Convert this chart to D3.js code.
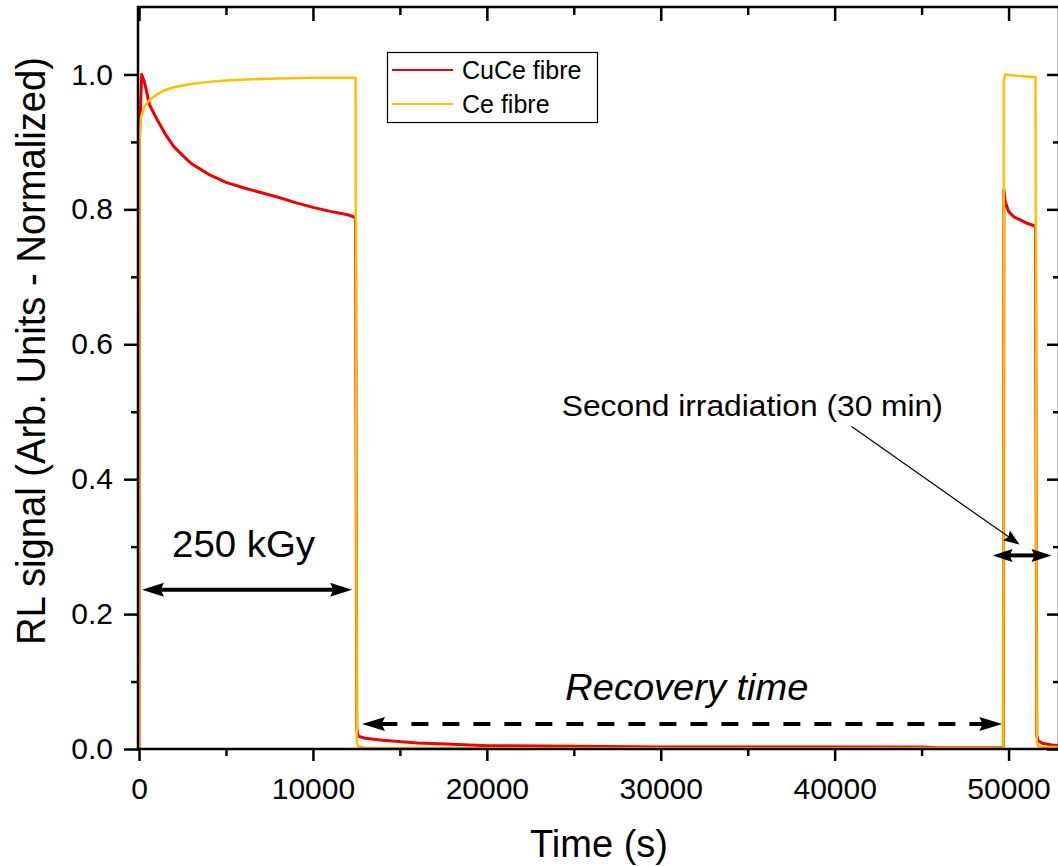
<!DOCTYPE html>
<html>
<head>
<meta charset="utf-8">
<script src="https://cdn.jsdelivr.net/npm/d3@7"></script>
<style>
body { margin: 0; background: #fff; }
svg text { font-family: "Liberation Sans", Arial, sans-serif; fill: #000; }
</style>
</head>
<body>
<svg id="chart"></svg>
<script>
// CuCe fibre (red), time in s, normalized RL signal
var cuceTime = [-60, 0, 20, 150, 300, 600, 1000, 1500, 2000, 2500, 3000, 4000, 5000, 6000, 7000, 8000, 9000, 10000, 11000, 12000,
    12450, 12520, 12600, 13000, 14000, 16000, 18000, 20000, 25000, 30000, 35000, 40000, 45000, 46000,
    49650, 49700, 49730, 49800, 50000, 50300, 50700, 51100, 51550, 51620, 51700, 52000, 52500, 52900];
var cuceSignal = [0, 0, 0.90, 1.0, 0.99, 0.955, 0.935, 0.912, 0.893, 0.88, 0.868, 0.852, 0.84, 0.832, 0.825, 0.818, 0.81, 0.803, 0.797, 0.792,
    0.788, 0.03, 0.019, 0.016, 0.013, 0.009, 0.007, 0.005, 0.004, 0.003, 0.003, 0.003, 0.003, 0.002,
    0.002, 0.004, 0.83, 0.812, 0.797, 0.789, 0.784, 0.779, 0.775, 0.02, 0.012, 0.008, 0.006, 0.005];

// Ce fibre (yellow)
var ceTime = [-60, 0, 30, 100, 300, 600, 1000, 1500, 2000, 3000, 4000, 5000, 6500, 8000, 10000,
    12450, 12520, 12600, 13000, 20000, 30000, 40000, 49650, 49700, 49730, 49800, 50500, 51550, 51620, 51700, 52000, 52900];
var ceSignal = [0, 0, 0.90, 0.935, 0.952, 0.962, 0.970, 0.977, 0.981, 0.986, 0.989, 0.991, 0.993, 0.994, 0.995,
    0.995, 0.01, 0.004, 0.002, 0.001, 0.001, 0.001, 0.002, 0.003, 0.99, 1.0, 0.998, 0.996, 0.01, 0.004, 0.003, 0.003];

var xMajor = [0, 10000, 20000, 30000, 40000, 50000];
var xMinor = [5000, 15000, 25000, 35000, 45000];
var yMajor = [0, 0.2, 0.4, 0.6, 0.8, 1.0];
var yMinor = [0.1, 0.3, 0.5, 0.7, 0.9];

var seriesNames = ["CuCe fibre", "Ce fibre"];
var seriesColors = ["#ee0000", "#ffbf00"];

var width = 1058;
var height = 866;
var plotLeft = 138, plotRight = 1059, plotTop = 7, plotBottom = 749;

var svg = d3.select("#chart")
    .attr("width", width)
    .attr("height", height);

var xScale = d3.scaleLinear()
    .domain([-60, 52900])
    .range([plotLeft, plotRight]);

var yScale = d3.scaleLinear()
    .domain([0, 1.1])
    .range([plotBottom, plotTop]);

var toPoints = function(times, values)
{
    return times.map(function(t, i) { return [t, values[i]]; });
}

var series = [toPoints(cuceTime, cuceSignal), toPoints(ceTime, ceSignal)];

svg.append("clipPath")
    .attr("id", "plotclip")
    .append("rect")
    .attr("x", plotLeft)
    .attr("y", plotTop)
    .attr("width", plotRight - plotLeft)
    .attr("height", plotBottom - plotTop);

var line = d3.line()
    .x(function(d) { return xScale(d[0]); })
    .y(function(d) { return yScale(d[1]); });

svg.append("g")
    .attr("clip-path", "url(#plotclip)")
    .selectAll("path")
    .data(series)
    .enter()
    .append("path")
    .attr("d", line)
    .attr("fill", "none")
    .attr("stroke", function(d, i) { return seriesColors[i]; })
    .attr("stroke-width", function(d, i) { return i == 0 ? 3 : 2.5; })
    .attr("stroke-linejoin", "round");

// axes
var styleAxis = function(g)
{
    g.select(".domain").remove();
    g.selectAll("line").attr("stroke", "#000").attr("stroke-width", 2.5);
    g.selectAll("text").style("font-size", "30px").attr("fill", "#000");
}

svg.append("g")
    .attr("transform", "translate(0," + plotBottom + ")")
    .call(d3.axisBottom(xScale).tickValues(xMajor).tickSize(12).tickPadding(17).tickFormat(d3.format("d")))
    .call(styleAxis);
svg.append("g")
    .attr("transform", "translate(0," + plotBottom + ")")
    .call(d3.axisBottom(xScale).tickValues(xMinor).tickSize(7).tickFormat(""))
    .call(styleAxis);
svg.append("g")
    .attr("transform", "translate(0," + plotTop + ")")
    .call(d3.axisBottom(xScale).tickValues(xMajor).tickSize(14).tickFormat(""))
    .call(styleAxis);
svg.append("g")
    .attr("transform", "translate(0," + plotTop + ")")
    .call(d3.axisBottom(xScale).tickValues(xMinor).tickSize(8).tickFormat(""))
    .call(styleAxis);

svg.append("g")
    .attr("transform", "translate(" + plotLeft + ",0)")
    .call(d3.axisLeft(yScale).tickValues(yMajor).tickSize(14).tickPadding(11).tickFormat(d3.format(".1f")))
    .call(styleAxis);
svg.append("g")
    .attr("transform", "translate(" + plotLeft + ",0)")
    .call(d3.axisLeft(yScale).tickValues(yMinor).tickSize(7).tickFormat(""))
    .call(styleAxis);
svg.append("g")
    .attr("transform", "translate(" + plotRight + ",0)")
    .call(d3.axisLeft(yScale).tickValues(yMajor).tickSize(12).tickFormat(""))
    .call(styleAxis);
svg.append("g")
    .attr("transform", "translate(" + plotRight + ",0)")
    .call(d3.axisLeft(yScale).tickValues(yMinor).tickSize(6).tickFormat(""))
    .call(styleAxis);

svg.append("rect")
    .attr("x", plotLeft)
    .attr("y", plotTop)
    .attr("width", plotRight - plotLeft)
    .attr("height", plotBottom - plotTop)
    .attr("fill", "none")
    .attr("stroke", "#000")
    .attr("stroke-width", 2.5);

// axis titles
svg.append("text")
    .attr("x", 599)
    .attr("y", 857)
    .attr("text-anchor", "middle")
    .attr("textLength", 138)
    .attr("lengthAdjust", "spacingAndGlyphs")
    .style("font-size", "38px")
    .text("Time (s)");

svg.append("text")
    .attr("transform", "translate(45,351) rotate(-90)")
    .attr("text-anchor", "middle")
    .attr("textLength", 588)
    .attr("lengthAdjust", "spacingAndGlyphs")
    .style("font-size", "40px")
    .text("RL signal (Arb. Units - Normalized)");

// legend
var legend = svg.append("g");
legend.append("rect")
    .attr("x", 387.5).attr("y", 52.5)
    .attr("width", 210).attr("height", 70)
    .attr("fill", "#fff").attr("stroke", "#000").attr("stroke-width", 1.2);
seriesNames.forEach(function(name, i)
{
    var ly = 70 + i * 34;
    legend.append("line")
        .attr("x1", 392).attr("x2", 453)
        .attr("y1", ly).attr("y2", ly)
        .attr("stroke", seriesColors[i]).attr("stroke-width", 2);
    legend.append("text")
        .attr("x", 462).attr("y", ly + 9)
        .style("font-size", "25px")
        .text(name);
});

// annotations
var arrowHead = function(x, y, angle, len, half)
{
    var c = Math.cos(angle), s = Math.sin(angle);
    var bx = x - c * len, by = y - s * len;
    svg.append("path")
        .attr("d", "M" + x + "," + y +
            "L" + (bx - s * half) + "," + (by + c * half) +
            "L" + (bx + c * len * 0.15) + "," + (by + s * len * 0.15) +
            "L" + (bx + s * half) + "," + (by - c * half) + "Z")
        .attr("fill", "#000");
}

var doubleArrow = function(t1, t2, v, lineWidth, dash, len, half)
{
    var x1 = xScale(t1), x2 = xScale(t2), y = yScale(v);
    svg.append("line")
        .attr("x1", x1 + len * 0.8).attr("x2", x2 - len * 0.8)
        .attr("y1", y).attr("y2", y)
        .attr("stroke", "#000")
        .attr("stroke-width", lineWidth)
        .attr("stroke-dasharray", dash);
    arrowHead(x1, y, Math.PI, len, half);
    arrowHead(x2, y, 0, len, half);
}

doubleArrow(170, 12250, 0.236, 4, null, 22, 7);
doubleArrow(12820, 49640, 0.037, 4, "17,14", 23, 7);
doubleArrow(49080, 52470, 0.287, 4, null, 20, 6.5);

svg.append("text")
    .attr("x", xScale(1900))
    .attr("y", yScale(0.285))
    .attr("textLength", 143)
    .attr("lengthAdjust", "spacingAndGlyphs")
    .style("font-size", "36px")
    .text("250 kGy");

svg.append("text")
    .attr("x", xScale(31500))
    .attr("y", yScale(0.073))
    .attr("text-anchor", "middle")
    .attr("textLength", 243)
    .attr("lengthAdjust", "spacingAndGlyphs")
    .style("font-size", "37px")
    .style("font-style", "italic")
    .text("Recovery time");

svg.append("text")
    .attr("x", xScale(24310))
    .attr("y", yScale(0.494))
    .attr("textLength", 381)
    .attr("lengthAdjust", "spacingAndGlyphs")
    .style("font-size", "29px")
    .text("Second irradiation (30 min)");

var ax1 = xScale(40977), ay1 = yScale(0.478);
var ax2 = xScale(50632), ay2 = yScale(0.303);
var ang = Math.atan2(ay2 - ay1, ax2 - ax1);
svg.append("line")
    .attr("x1", ax1).attr("y1", ay1)
    .attr("x2", ax2 - Math.cos(ang) * 10).attr("y2", ay2 - Math.sin(ang) * 10)
    .attr("stroke", "#000")
    .attr("stroke-width", 1.2);
arrowHead(ax2, ay2, ang, 16, 6);
</script>
</body>
</html>
